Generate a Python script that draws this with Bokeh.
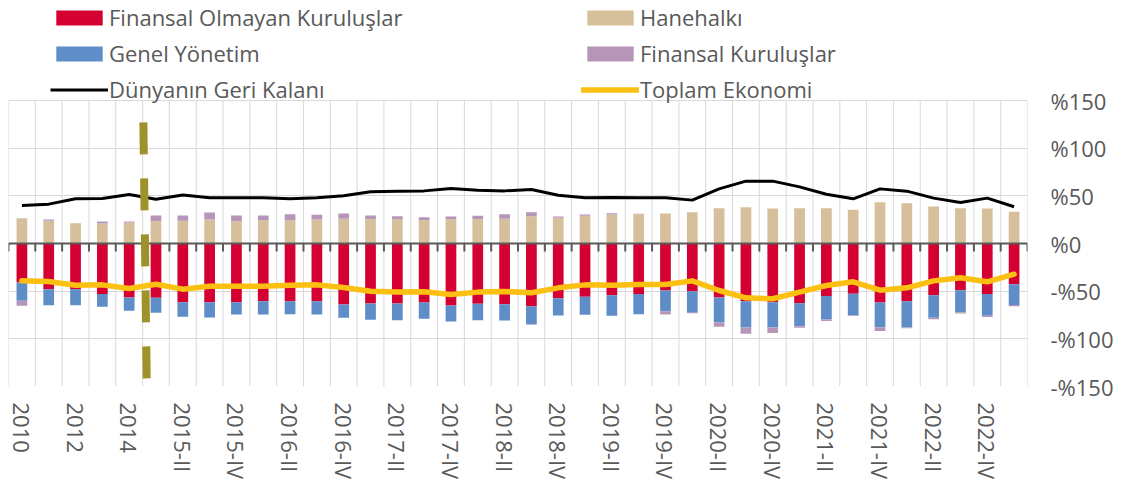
from bokeh.plotting import figure
from bokeh.models import (Range1d, FixedTicker, Legend, LegendItem, Arrow,
                          ColumnDataSource)
from bokeh.embed import file_html
from bokeh.resources import INLINE

# ---------------- data ----------------
categories = ["2010", "2011", "2012", "2013", "2014",
              "2015-I", "2015-II", "2015-III", "2015-IV",
              "2016-I", "2016-II", "2016-III", "2016-IV",
              "2017-I", "2017-II", "2017-III", "2017-IV",
              "2018-I", "2018-II", "2018-III", "2018-IV",
              "2019-I", "2019-II", "2019-III", "2019-IV",
              "2020-I", "2020-II", "2020-III", "2020-IV",
              "2021-I", "2021-II", "2021-III", "2021-IV",
              "2022-I", "2022-II", "2022-III", "2022-IV",
              "2023-I"]

finansal_olmayan = [-40.9, -47.9, -47.9, -53.1, -56.6, -57.0, -61.5, -61.5, -61.5, -60.5,
                    -60.5, -60.5, -64.0, -62.9, -62.9, -61.9, -65.0, -63.3, -63.6, -65.7,
                    -57.3, -55.9, -54.2, -53.1, -49.3, -50.0, -56.6, -60.5, -61.5, -62.6,
                    -55.2, -52.8, -61.9, -60.5, -54.2, -49.0, -53.1, -42.7]
genel_yonetim = [-19.2, -16.8, -16.8, -13.3, -14.0, -15.7, -15.4, -16.1, -12.9, -14.0,
                 -13.6, -14.0, -14.0, -17.1, -17.5, -17.1, -16.8, -17.1, -17.1, -19.2,
                 -18.2, -18.9, -21.7, -21.0, -21.7, -22.7, -26.2, -27.6, -26.6, -24.1,
                 -24.5, -22.7, -26.2, -27.6, -23.8, -23.1, -22.7, -21.7]
hanehalki = [26.6, 23.8, 21.3, 21.0, 22.0, 23.4, 23.8, 25.2, 23.4, 24.5,
             24.5, 25.2, 25.9, 25.5, 25.5, 24.5, 25.5, 25.5, 25.9, 28.7,
             26.9, 29.0, 30.4, 30.8, 31.5, 32.9, 37.1, 38.1, 36.7, 37.1,
             37.1, 35.3, 43.4, 42.3, 38.8, 37.1, 36.7, 33.2]
finansal_kuruluslar = [-5.2, 1.4, 0.0, 2.1, 1.0, 5.9, 5.6, 7.3, 5.9, 4.9,
                       6.3, 4.9, 5.6, 3.8, 3.1, 3.1, 2.8, 3.5, 4.9, 4.2,
                       1.4, 1.4, 1.4, 0.5, -3.5, -0.5, -4.5, -6.6, -5.9, -1.7,
                       -1.7, -0.5, -3.8, -0.7, -1.4, -1.4, -1.4, -1.4]
dunyanin_geri_kalani = [39.9, 41.3, 46.9, 47.2, 51.4, 46.5, 50.9, 48.1, 48.1, 48.1,
                        47.0, 47.9, 50.0, 54.2, 54.9, 55.2, 57.7, 55.9, 55.2, 56.6,
                        50.7, 47.9, 48.3, 47.9, 47.9, 45.5, 57.3, 65.4, 65.4, 59.4,
                        51.7, 46.9, 57.3, 54.9, 47.6, 43.0, 47.6, 38.5]
toplam_ekonomi = [-39.2, -39.9, -43.7, -43.4, -47.2, -42.7, -47.9, -44.8, -44.8, -44.8,
                  -43.7, -43.4, -46.2, -50.0, -51.0, -50.7, -53.5, -51.0, -50.3, -51.7,
                  -46.5, -43.4, -43.7, -43.0, -43.0, -39.2, -49.3, -57.0, -58.0, -51.0,
                  -44.1, -40.2, -49.0, -46.5, -39.2, -36.0, -40.2, -32.2]

y_ticks = [-150, -100, -50, 0, 50, 100, 150]
y_tick_labels = ["-%150", "-%100", "-%50", "%0", "%50", "%100", "%150"]

# ---------------- derived stacking ----------------
n = len(categories)
xs = [i + 0.5 for i in range(n)]
bounds = list(range(n + 1))
fk_pos = [max(v, 0) for v in finansal_kuruluslar]
fk_neg = [min(v, 0) for v in finansal_kuruluslar]
gy_top = [a + b for a, b in zip(finansal_olmayan, genel_yonetim)]
fkn_top = [a + b for a, b in zip(gy_top, fk_neg)]
fkp_top = [a + b for a, b in zip(hanehalki, fk_pos)]

src = ColumnDataSource(dict(x=xs, zero=[0] * n, fok=finansal_olmayan,
                            gy_t=gy_top, fkn_t=fkn_top,
                            hh=hanehalki, fkp_t=fkp_top,
                            dgk=dunyanin_geri_kalani, te=toplam_ekonomi))

RED = "#D50032"
BLUE = "#5F8DC8"
TAN = "#D6BF9B"
PURPLE = "#B696B8"
YELLOW = "#FBC012"
TXT = "#595959"
GRID = "#D9D9D9"
FONT = "Open Sans"

# plot area: 286 px for the 300-unit value span; the frame also hosts the legend band above it
FRAME_H = 386
Y_TOP = -150 + 300 * FRAME_H / 286.0

p = figure(frame_width=1019, frame_height=FRAME_H, x_range=Range1d(0, n),
           y_range=Range1d(-150, Y_TOP),
           y_axis_location="right", output_backend="svg", toolbar_location=None,
           min_border_left=8, min_border_right=86, min_border_top=0, min_border_bottom=102)
p.outline_line_color = None
p.background_fill_color = "white"
p.border_fill_color = "white"

# grids
p.xgrid.visible = False
p.ygrid.ticker = FixedTicker(ticks=y_ticks)
p.ygrid.grid_line_color = GRID
p.segment(x0=bounds, y0=[-150] * (n + 1), x1=bounds, y1=[150] * (n + 1),
          line_color=GRID, line_width=1)

bw = 0.4
r_fok = p.vbar(x="x", bottom="zero", top="fok", width=bw, source=src, fill_color=RED, line_color=None)
r_gy = p.vbar(x="x", bottom="fok", top="gy_t", width=bw, source=src, fill_color=BLUE, line_color=None)
r_fkn = p.vbar(x="x", bottom="gy_t", top="fkn_t", width=bw, source=src, fill_color=PURPLE, line_color=None)
r_hh = p.vbar(x="x", bottom="zero", top="hh", width=bw, source=src, fill_color=TAN, line_color=None)
r_fkp = p.vbar(x="x", bottom="hh", top="fkp_t", width=bw, source=src, fill_color=PURPLE, line_color=None)

# zero axis line with tick marks
p.hspan(y=[0], line_color=TXT, line_width=2)
p.segment(x0=bounds, y0=[0] * (n + 1), x1=bounds, y1=[-8.4] * (n + 1),
          line_color=TXT, line_width=2)

r_dgk = p.line(x="x", y="dgk", source=src, line_color="black", line_width=3, line_join="round")
r_te = p.line(x="x", y="te", source=src, line_color=YELLOW, line_width=5.5, line_join="round",
              line_cap="round")

# dashed divider
p.add_layout(Arrow(end=None, x_start=5.03, y_start=127, x_end=5.18, y_end=-199,
                   line_color="#A0922A", line_width=8, line_dash="32 24"))

# axes
xa = p.xaxis[0]
xa.ticker = FixedTicker(ticks=[xs[i] for i in range(0, n, 2)])
xa.major_label_overrides = {xs[i]: categories[i] for i in range(0, n, 2)}
xa.major_label_orientation = "vertical"
xa.axis_line_color = None
xa.major_tick_line_color = None
xa.minor_tick_line_color = None
xa.major_tick_out = 0
xa.major_label_standoff = 16
xa.major_label_text_font = FONT
xa.major_label_text_font_size = "22px"
xa.major_label_text_color = TXT

ya = p.yaxis[0]
ya.ticker = FixedTicker(ticks=y_ticks)
ya.major_label_overrides = {t: l for t, l in zip(y_ticks, y_tick_labels)}
ya.axis_line_color = None
ya.major_tick_line_color = None
ya.minor_tick_line_color = None
ya.major_tick_out = 0
ya.major_label_standoff = 23
ya.major_label_text_font = FONT
ya.major_label_text_font_size = "22px"
ya.major_label_text_color = TXT

legend = Legend(items=[LegendItem(label="Finansal Olmayan Kuruluşlar", renderers=[r_fok]),
                       LegendItem(label="Hanehalkı", renderers=[r_hh]),
                       LegendItem(label="Genel Yönetim", renderers=[r_gy]),
                       LegendItem(label="Finansal Kuruluşlar", renderers=[r_fkp]),
                       LegendItem(label="Dünyanın Geri Kalanı", renderers=[r_dgk]),
                       LegendItem(label="Toplam Ekonomi", renderers=[r_te])],
                location=(42, 282), orientation="horizontal", ncols=2,
                glyph_width=58, glyph_height=19, label_standoff=1, spacing=6,
                label_width=466,
                padding=0, margin=0, border_line_color=None, background_fill_alpha=0,
                label_text_font=FONT, label_text_font_size="22px", label_text_color=TXT)
p.add_layout(legend)

open("out.html", "w").write(file_html(p, INLINE))
